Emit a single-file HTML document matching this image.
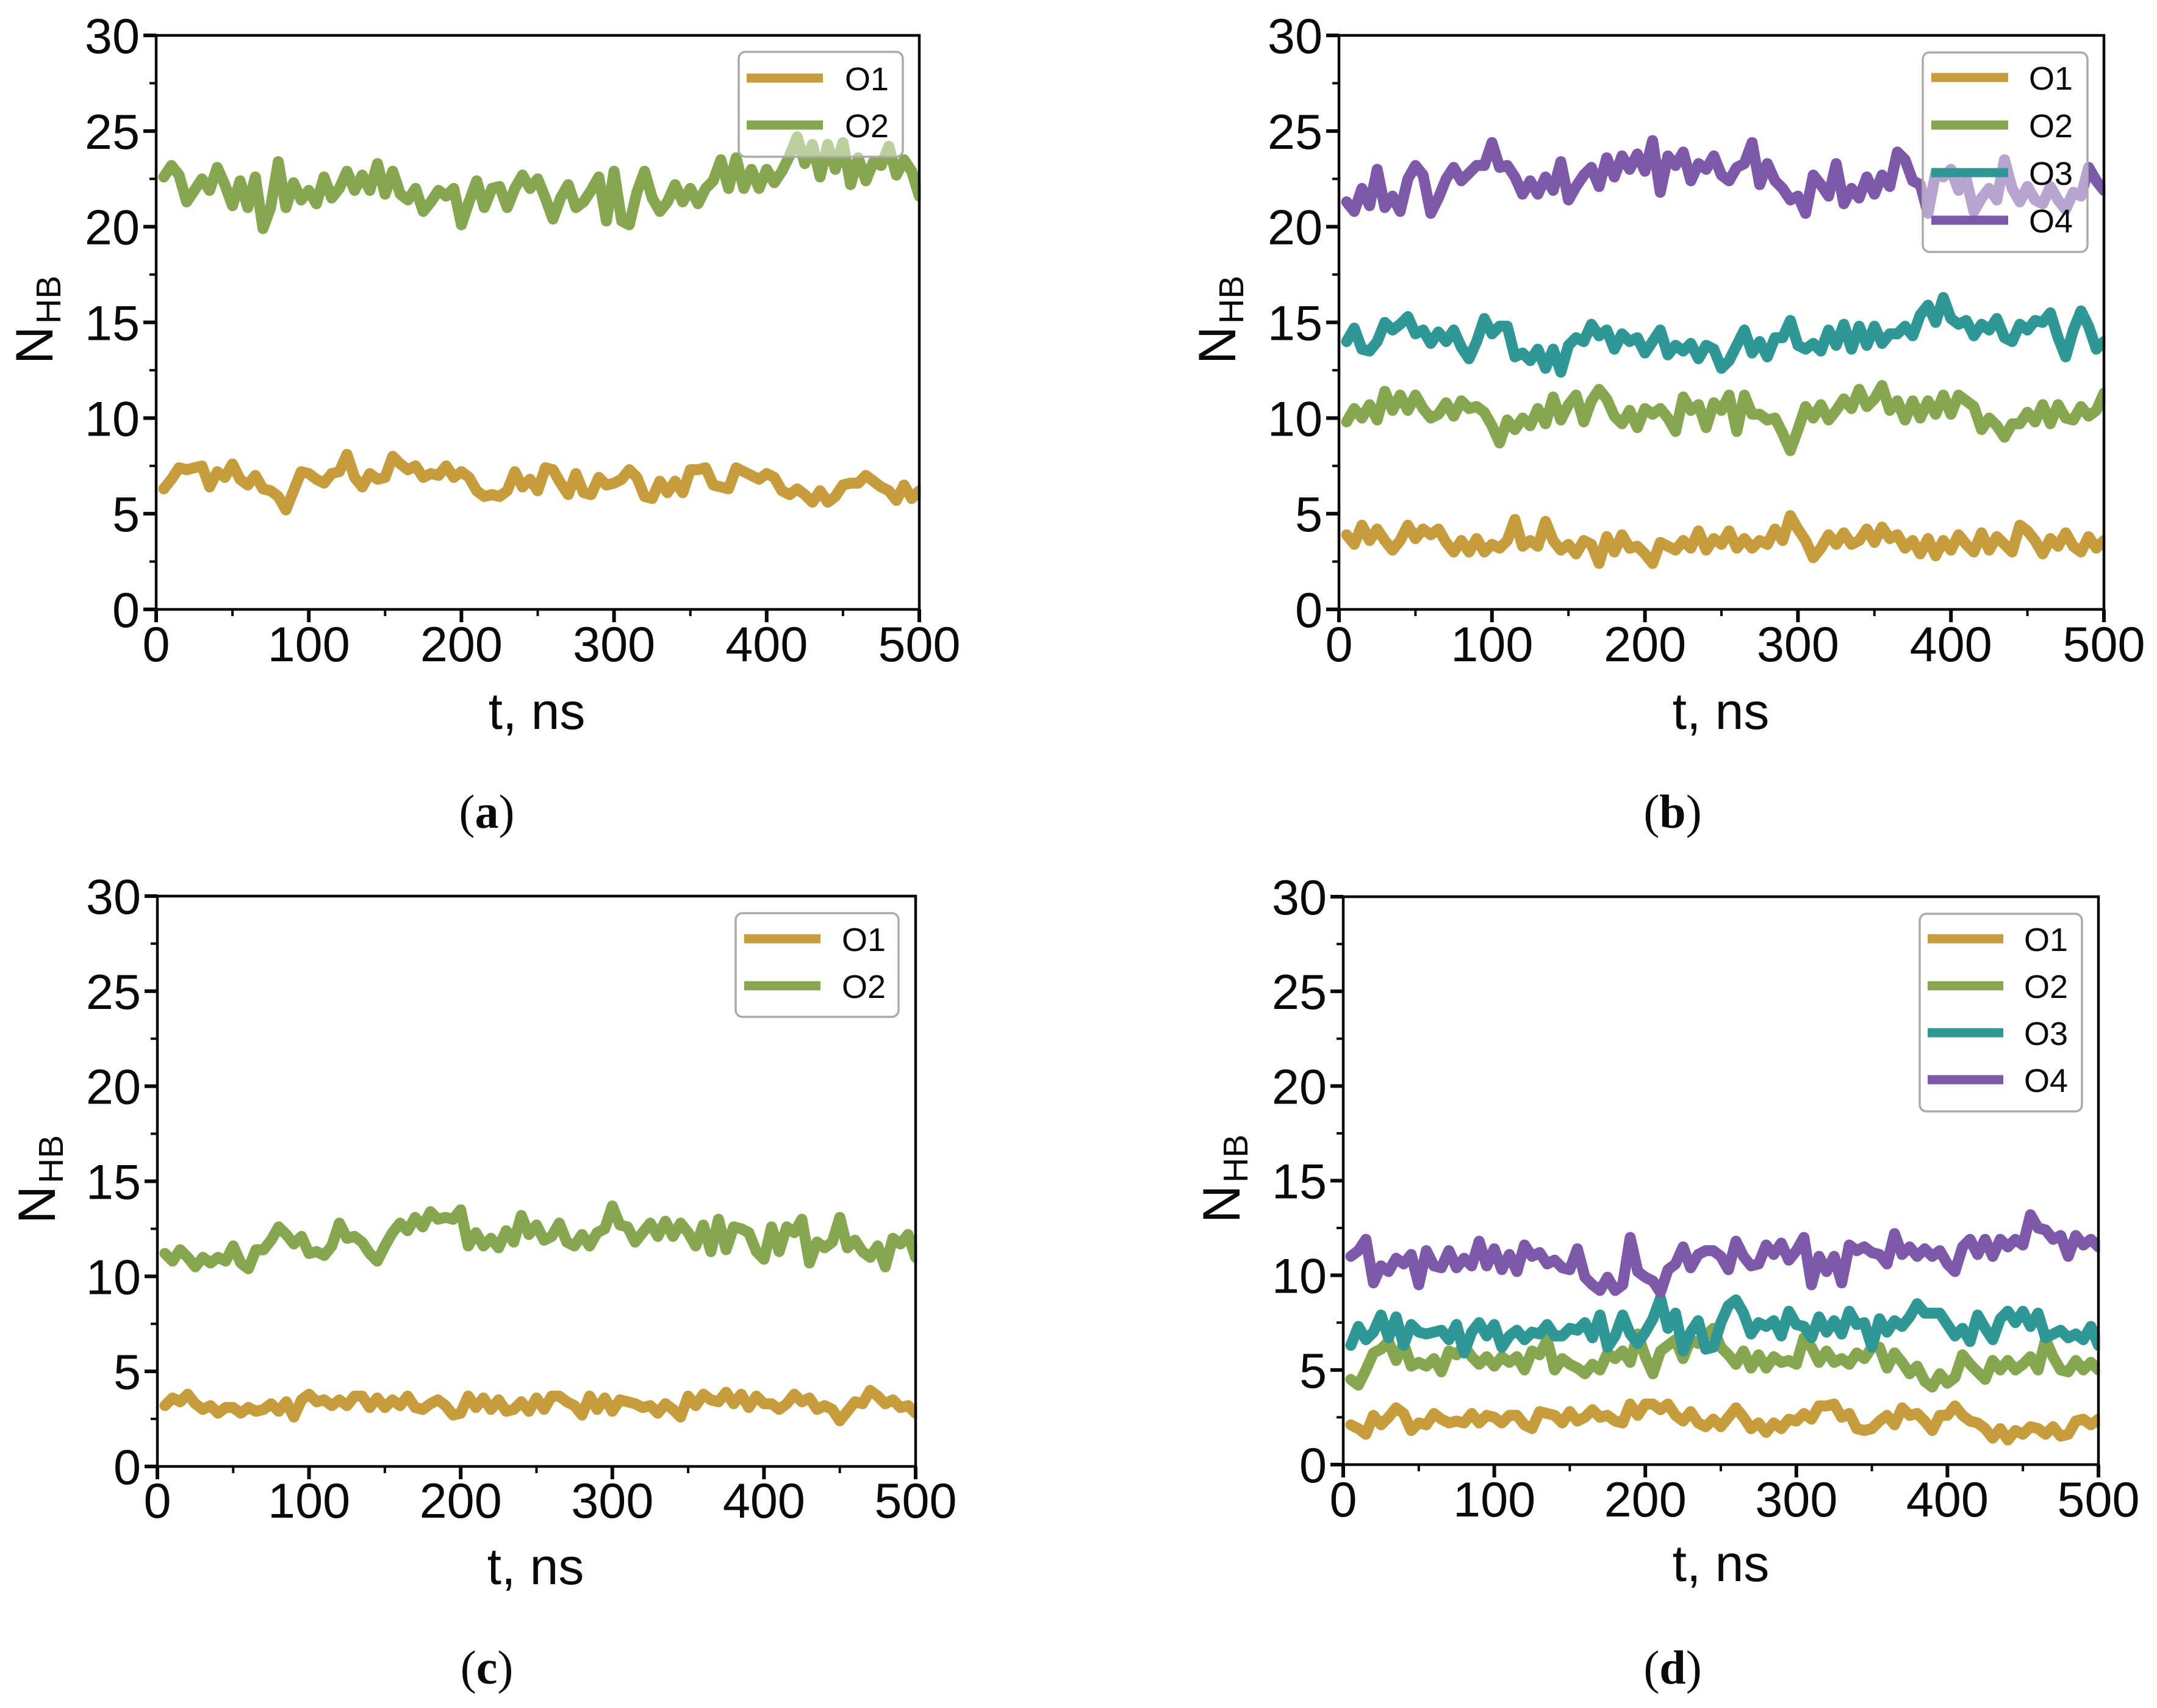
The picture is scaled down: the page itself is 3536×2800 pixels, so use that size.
<!DOCTYPE html>
<html lang="en">
<head>
<meta charset="utf-8">
<title>Hydrogen bond count over time</title>
<style>
html,body{margin:0;padding:0;background:#fff;}
svg{display:block;}
text{font-family:"Liberation Sans",Arial,sans-serif;fill:#0a0a0a;}
.serif{font-family:"Liberation Serif","Times New Roman",serif;}
</style>
</head>
<body>
<svg id="chart" xmlns="http://www.w3.org/2000/svg" width="3536" height="2800" viewBox="0 0 3536 2800"></svg>
<script>
const timePoints = [
5,10,15,20,25,30,35,40,45,50,
55,60,65,70,75,80,85,90,95,100,
105,110,115,120,125,130,135,140,145,150,
155,160,165,170,175,180,185,190,195,200,
205,210,215,220,225,230,235,240,245,250,
255,260,265,270,275,280,285,290,295,300,
305,310,315,320,325,330,335,340,345,350,
355,360,365,370,375,380,385,390,395,400,
405,410,415,420,425,430,435,440,445,450,
455,460,465,470,475,480,485,490,495,500];
const xTickLabels = [0,100,200,300,400,500];
const xMinorTicks = [50,150,250,350,450];
const yTickLabels = [0,5,10,15,20,25,30];
const yMinorTicks = [2.5,7.5,12.5,17.5,22.5,27.5];

const panelA_O1 = [
6.3,6.8,7.4,7.3,7.4,7.5,6.4,7.2,6.9,7.6,
6.8,6.5,7.0,6.3,6.2,5.9,5.2,6.2,7.2,7.1,
6.8,6.6,7.1,7.2,8.1,6.9,6.4,7.1,6.8,6.9,
8.0,7.6,7.3,7.5,6.9,7.1,7.0,7.5,6.9,7.2,
6.9,6.2,5.9,6.0,5.9,6.2,7.2,6.4,6.8,6.2,
7.4,7.3,6.6,6.0,7.1,6.1,6.0,6.9,6.5,6.6,
6.8,7.3,6.9,5.9,5.8,6.7,6.1,6.7,6.1,7.3,
7.3,7.4,6.5,6.4,6.3,7.4,7.2,7.0,6.8,7.1,
6.9,6.2,6.0,6.3,6.0,5.6,6.2,5.6,5.9,6.5,
6.6,6.6,7.0,6.7,6.4,6.2,5.7,6.5,5.8,6.2];
const panelA_O2 = [
22.6,23.2,22.7,21.3,21.9,22.5,21.9,23.1,22.2,21.1,
22.4,21.0,22.6,19.9,21.0,23.4,21.0,22.3,21.4,21.9,
21.2,22.6,21.5,22.0,22.9,21.9,22.7,21.9,23.3,21.7,
22.9,21.7,21.4,22.0,20.8,21.3,21.9,21.6,22.0,20.1,
21.3,22.4,21.0,22.0,22.1,21.0,22.0,22.7,22.0,22.5,
21.5,20.4,21.5,22.2,21.0,21.3,21.9,22.6,20.3,22.9,
20.3,20.1,21.8,22.9,21.5,20.8,21.3,22.2,21.3,22.0,
21.2,22.0,22.4,23.5,22.0,23.6,22.0,23.0,22.0,23.0,
22.3,22.9,23.7,24.7,23.3,24.3,22.6,24.3,23.0,24.4,
22.2,23.6,22.4,23.4,23.2,24.2,22.7,23.5,22.9,21.6];

const panelB_O1 = [
3.9,3.4,4.4,3.6,4.2,3.6,3.1,3.6,4.4,3.7,
4.2,3.9,4.2,3.5,3.0,3.6,3.0,3.7,3.0,3.4,
3.2,3.6,4.7,3.3,3.6,3.3,4.6,3.6,3.1,3.4,
2.9,3.6,3.4,2.4,3.8,3.0,3.9,3.2,3.3,2.9,
2.4,3.5,3.3,3.1,3.6,3.2,4.1,3.1,3.7,3.4,
4.1,3.2,3.7,3.2,3.6,3.4,4.2,3.6,4.9,4.2,
3.6,2.7,3.2,3.9,3.4,4.0,3.4,3.6,4.2,3.5,
4.3,3.7,3.9,3.2,3.6,2.9,3.7,2.8,3.6,3.1,
3.9,3.4,3.0,4.0,3.1,3.8,3.4,3.0,4.4,4.1,
3.6,2.9,3.7,3.3,4.0,3.3,3.0,3.8,3.2,3.6];
const panelB_O2 = [
9.8,10.5,10.0,10.7,9.9,11.4,10.4,11.2,10.4,11.2,
10.5,10.0,10.2,10.8,10.1,10.9,10.5,10.6,10.3,9.6,
8.7,9.9,9.4,10.0,9.6,10.5,9.7,11.1,9.9,10.7,
11.2,9.8,10.9,11.5,11.0,10.1,9.7,10.4,9.5,10.5,
10.2,10.5,10.0,9.3,11.1,10.4,10.7,9.5,10.8,10.4,
11.2,9.3,11.2,10.2,10.2,9.9,10.0,9.2,8.3,9.4,
10.6,10.0,10.7,9.9,10.4,11.0,10.5,11.5,10.6,11.0,
11.7,10.4,10.9,9.9,10.9,10.0,10.9,10.2,11.2,10.2,
11.2,10.9,10.6,9.4,10.0,9.6,9.0,9.7,9.7,10.3,
9.8,10.7,9.7,10.7,10.0,9.9,10.6,10.1,10.4,11.3];
const panelB_O3 = [
14.0,14.7,13.6,13.5,14.0,15.0,14.6,14.9,15.3,14.4,
14.6,13.9,14.5,14.0,14.6,13.7,13.1,14.0,15.2,14.4,
14.8,14.8,13.2,13.4,13.0,13.6,12.6,13.6,12.4,13.8,
14.2,14.0,14.9,14.3,14.6,13.6,14.4,14.0,14.2,13.4,
14.0,14.6,13.3,13.8,13.5,13.9,13.1,13.8,13.6,12.6,
13.0,13.8,14.6,13.4,14.0,13.2,14.2,14.2,15.1,13.8,
13.6,13.9,13.5,14.6,13.8,14.9,13.6,14.8,13.8,14.8,
13.9,14.4,14.4,14.8,14.3,15.4,15.9,15.0,16.3,15.2,
14.9,15.1,14.3,14.9,14.6,15.2,14.2,14.0,14.9,14.6,
15.1,15.0,15.5,14.2,13.2,14.6,15.6,14.8,13.6,14.0];
const panelB_O4 = [
21.3,20.8,22.0,21.1,23.0,21.0,21.6,20.8,22.5,23.2,
22.7,20.7,21.5,22.5,23.1,22.4,22.8,23.2,23.2,24.4,
23.1,23.2,22.6,21.7,22.4,21.7,22.6,21.9,23.4,21.4,
22.1,22.7,23.1,22.1,23.6,22.6,23.7,23.0,23.8,22.9,
24.5,21.8,23.7,23.2,23.9,22.4,23.3,23.0,23.7,22.7,
22.4,23.1,23.3,24.4,22.2,23.3,22.4,22.0,21.4,21.6,
20.7,22.7,22.2,21.6,23.3,21.2,22.0,21.5,22.6,21.7,
22.7,22.1,23.9,23.5,22.4,22.2,20.7,22.8,22.6,23.0,
21.9,22.5,20.8,21.5,22.0,21.4,23.5,22.0,21.3,22.1,
21.4,21.2,22.1,21.4,20.9,21.8,21.6,23.1,22.4,21.9];

const panelC_O1 = [
3.2,3.6,3.4,3.8,3.3,3.0,3.2,2.8,3.1,3.1,
2.8,3.1,2.9,3.0,3.3,2.9,3.4,2.6,3.5,3.8,
3.4,3.5,3.2,3.5,3.2,3.7,3.7,3.1,3.6,3.1,
3.5,3.2,3.7,3.1,3.0,3.3,3.5,3.2,2.7,2.8,
3.7,3.1,3.6,3.0,3.5,2.9,3.0,3.4,2.9,3.6,
3.0,3.7,3.7,3.4,3.2,2.7,3.7,3.0,3.6,2.9,
3.5,3.4,3.3,3.1,3.2,2.8,3.3,3.0,2.6,3.7,
3.2,3.8,3.5,3.4,3.9,3.3,3.8,3.1,3.7,3.3,
3.3,3.0,3.3,3.8,3.4,3.6,3.0,3.2,3.0,2.4,
2.9,3.4,3.3,4.0,3.7,3.3,3.5,3.1,3.2,2.8];
const panelC_O2 = [
11.2,10.8,11.4,11.0,10.5,11.0,10.7,11.0,10.8,11.6,
10.7,10.4,11.4,11.4,11.9,12.6,12.2,11.7,12.1,11.2,
11.3,11.1,11.6,12.8,12.0,12.1,11.8,11.2,10.8,11.6,
12.3,12.8,12.4,13.1,12.6,13.4,13.0,13.1,13.0,13.5,
11.6,12.3,11.6,12.0,11.5,12.4,11.8,13.2,12.2,12.7,
11.9,12.1,12.8,11.8,11.6,12.2,11.6,12.3,12.5,13.7,
12.7,12.6,11.8,12.3,12.8,12.1,12.9,12.1,12.8,12.3,
11.6,12.7,11.3,13.0,11.4,12.6,12.5,12.3,11.3,10.9,
12.6,11.3,12.6,12.3,13.0,10.7,11.8,11.5,11.8,13.1,
11.5,11.9,11.3,11.0,11.6,10.5,12.0,11.7,12.2,11.0];

const panelD_O1 = [
2.1,1.9,1.6,2.6,2.1,2.5,3.0,2.7,1.8,2.2,
2.1,2.7,2.4,2.2,2.3,2.2,2.7,2.2,2.6,2.5,
2.2,2.6,2.6,2.1,1.9,2.8,2.7,2.6,2.2,2.8,
2.3,2.5,2.9,2.5,2.6,2.3,2.2,3.2,2.6,3.2,
3.2,2.9,3.2,2.6,2.3,2.8,2.2,2.0,2.4,2.0,
2.5,3.0,2.5,1.9,2.2,1.7,2.2,1.9,2.4,2.3,
2.7,2.4,3.1,3.1,3.2,2.5,2.7,1.9,1.8,1.9,
2.3,2.6,2.1,3.0,2.6,2.7,2.3,1.8,2.6,2.6,
3.1,2.6,2.3,2.2,1.9,1.4,1.9,1.3,1.8,1.6,
2.0,1.9,1.6,2.0,1.5,1.6,2.3,2.4,2.1,2.4];
const panelD_O2 = [
4.5,4.2,5.0,5.9,6.1,6.5,5.5,6.4,5.2,5.4,
5.2,5.6,4.9,6.0,5.8,6.3,5.7,5.3,5.7,5.2,
5.7,5.4,5.7,5.0,6.0,5.8,6.6,5.0,5.6,5.3,
5.1,4.8,5.3,5.0,5.9,5.6,6.0,5.4,6.9,5.7,
4.8,6.0,6.3,6.6,5.6,6.6,6.4,6.8,7.2,6.2,
5.8,5.3,6.0,5.1,5.8,5.1,5.7,5.4,5.5,5.3,
6.7,6.2,5.4,6.0,5.4,5.6,5.3,5.9,5.6,6.2,
6.2,5.1,5.9,5.4,4.8,5.2,4.4,4.1,4.8,4.3,
4.6,5.8,5.3,4.9,4.5,5.5,5.0,5.5,5.0,5.3,
5.7,5.0,6.6,5.7,5.0,4.9,5.5,5.0,5.4,5.0];
const panelD_O3 = [
6.3,7.3,6.6,7.0,7.9,6.7,7.8,6.3,7.4,7.0,
6.9,7.0,7.1,6.6,7.4,5.9,7.0,7.5,6.8,7.4,
6.2,6.8,7.1,6.6,7.0,6.9,7.4,6.8,6.8,7.2,
7.1,7.5,6.7,7.9,6.2,6.8,7.9,6.9,6.4,7.0,
7.7,8.8,7.2,8.0,6.0,7.0,7.6,6.1,6.2,7.5,
8.4,8.7,8.0,6.9,7.5,7.3,7.6,6.8,8.1,7.4,
7.3,6.7,7.8,7.0,7.6,6.9,8.1,7.4,7.5,6.2,
7.7,7.0,7.6,7.3,7.8,8.5,8.0,8.0,8.0,7.4,
6.8,7.2,6.5,7.9,7.2,6.6,7.7,8.1,7.5,8.1,
7.3,8.0,6.7,6.9,7.1,6.7,6.9,6.6,7.3,6.3];
const panelD_O4 = [
11.0,11.3,11.9,9.6,10.5,10.2,10.9,10.6,11.1,9.5,
11.3,10.5,10.4,11.3,10.4,10.9,10.5,11.8,10.5,11.4,
10.3,11.1,10.2,11.6,11.0,11.2,10.6,10.8,10.4,10.3,
11.4,9.9,9.5,9.2,9.9,9.2,9.5,12.0,10.2,9.9,
9.7,9.1,10.3,10.6,11.5,10.4,11.1,11.3,11.3,11.0,
10.3,11.8,11.0,10.5,10.6,11.6,11.1,11.7,10.8,11.3,
12.0,9.5,11.0,10.2,11.0,9.6,11.6,11.3,11.5,11.2,
11.1,10.6,12.2,11.1,11.5,11.0,11.4,11.0,11.3,10.6,
10.2,11.5,11.9,11.1,11.9,11.0,11.9,11.5,11.9,11.6,
13.2,12.5,12.4,11.9,12.1,11.0,12.1,11.6,11.9,11.5];

const seriesNames = ['O1','O2','O3','O4'];
const seriesColors = {O1:'#c69c3c',O2:'#86a64f',O3:'#2f9795',O4:'#7f59a9'};

const panels = [
  {id:'a',left:256,right:1507,top:58,bottom:999,xLabelY:1084,titleX:880,titleY:1195,nX:86,nY:597,capX:798,capY:1357,
   series:[panelA_O1,panelA_O2],lg:{x:1211,y:85,w:269,h:172,l1:1224,l2:1349,tx:1385,row0:128,step:77}},
  {id:'b',left:2195,right:3449,top:58,bottom:999,xLabelY:1084,titleX:2821,titleY:1195,nX:2025,nY:597,capX:2742,capY:1357,
   series:[panelB_O1,panelB_O2,panelB_O3,panelB_O4],lg:{x:3152,y:86,w:270,h:327,l1:3166,l2:3292,tx:3326,row0:127,step:78}},
  {id:'c',left:258,right:1501,top:1469,bottom:2404,xLabelY:2488,titleX:878,titleY:2597,nX:90,nY:2006,capX:798,capY:2760,
   series:[panelC_O1,panelC_O2],lg:{x:1206,y:1497,w:267,h:170,l1:1220,l2:1345,tx:1380,row0:1539,step:77}},
  {id:'d',left:2202,right:3440,top:1470,bottom:2401,xLabelY:2486,titleX:2821,titleY:2592,nX:2032,nY:2005,capX:2742,capY:2760,
   series:[panelD_O1,panelD_O2,panelD_O3,panelD_O4],lg:{x:3147,y:1498,w:266,h:324,l1:3160,l2:3284,tx:3318,row0:1539,step:77}}
];

const SVG_NS = 'http://www.w3.org/2000/svg';
const root = document.getElementById('chart');

function make(parent, tag, attrs, text) {
  const el = document.createElementNS(SVG_NS, tag);
  for (const k in attrs) el.setAttribute(k, attrs[k]);
  if (text !== undefined) el.textContent = text;
  parent.appendChild(el);
  return el;
}

function drawPanel(p) {
  const xScale = t => p.left + (t / 500) * (p.right - p.left);
  const yScale = v => p.bottom - (v / 30) * (p.bottom - p.top);

  const g = make(root, 'g', {});
  
  

  p.series.forEach((values, i) => {
    const name = seriesNames[i];
    const pts = values.map((v, j) => xScale(timePoints[j]).toFixed(1) + ',' + yScale(v).toFixed(1)).join(' ');
    const line = make(g, 'polyline', {points: pts, fill: 'none', stroke: seriesColors[name], 'stroke-width': 18, 'stroke-linejoin': 'round', 'stroke-linecap': 'round'});
    
    
  });

  const mask = make(g, 'rect', {x: p.right + 2.5, y: p.top, width: 20, height: p.bottom - p.top, fill: '#fff'});
  
  

  const frame = make(g, 'rect', {x: p.left, y: p.top, width: p.right - p.left, height: p.bottom - p.top, fill: 'none', stroke: '#0a0a0a', 'stroke-width': 4.5});
  
  

  yTickLabels.forEach(v => {
    const tick = make(g, 'line', {x1: p.left - 21, x2: p.left, y1: yScale(v), y2: yScale(v), stroke: '#0a0a0a', 'stroke-width': 6});
    
    
    const label = make(g, 'text', {x: p.left - 27, y: yScale(v) + 29, 'text-anchor': 'end', 'font-size': 81}, String(v));
    
    
  });
  yMinorTicks.forEach(v => {
    const tick = make(g, 'line', {x1: p.left - 11, x2: p.left, y1: yScale(v), y2: yScale(v), stroke: '#0a0a0a', 'stroke-width': 4});
    
    
  });
  xTickLabels.forEach(t => {
    const tick = make(g, 'line', {x1: xScale(t), x2: xScale(t), y1: p.bottom, y2: p.bottom + 21, stroke: '#0a0a0a', 'stroke-width': 6});
    
    
    const label = make(g, 'text', {x: xScale(t), y: p.xLabelY, 'text-anchor': 'middle', 'font-size': 81}, String(t));
    
    
  });
  xMinorTicks.forEach(t => {
    const tick = make(g, 'line', {x1: xScale(t), x2: xScale(t), y1: p.bottom, y2: p.bottom + 11, stroke: '#0a0a0a', 'stroke-width': 4});
    
    
  });

  const xTitle = make(g, 'text', {x: p.titleX, y: p.titleY, 'text-anchor': 'middle', 'font-size': 84}, 't, ns');
  
  

  const yTitle = make(g, 'text', {transform: 'translate(' + p.nX + ',' + p.nY + ') rotate(-90)', 'font-size': 86}, 'N');
  
  
  make(yTitle, 'tspan', {dy: 13, dx: 4, 'font-size': 57}, 'HB');

  const cap = make(g, 'text', {x: p.capX, y: p.capY, 'text-anchor': 'middle', 'font-size': 78, 'class': 'serif'}, '(');
  
  
  make(cap, 'tspan', {'font-weight': 'bold'}, p.id);
  make(cap, 'tspan', {}, ')');

  const lg = p.lg;
  const legend = make(g, 'g', {});
  
  
  const box = make(legend, 'rect', {x: lg.x, y: lg.y, width: lg.w, height: lg.h, rx: 11, ry: 11, fill: 'rgba(255,255,255,0.45)', stroke: '#ababab', 'stroke-width': 3.5});
  
  
  p.series.forEach((values, i) => {
    const name = seriesNames[i];
    const rowY = lg.row0 + i * lg.step;
    const swatch = make(legend, 'line', {x1: lg.l1, x2: lg.l2, y1: rowY, y2: rowY, stroke: seriesColors[name], 'stroke-width': 15});
    
    
    const text = make(legend, 'text', {x: lg.tx, y: rowY + 20, 'font-size': 54}, name);
    
    
  });
}

panels.forEach(drawPanel);
</script>
</body>
</html>
